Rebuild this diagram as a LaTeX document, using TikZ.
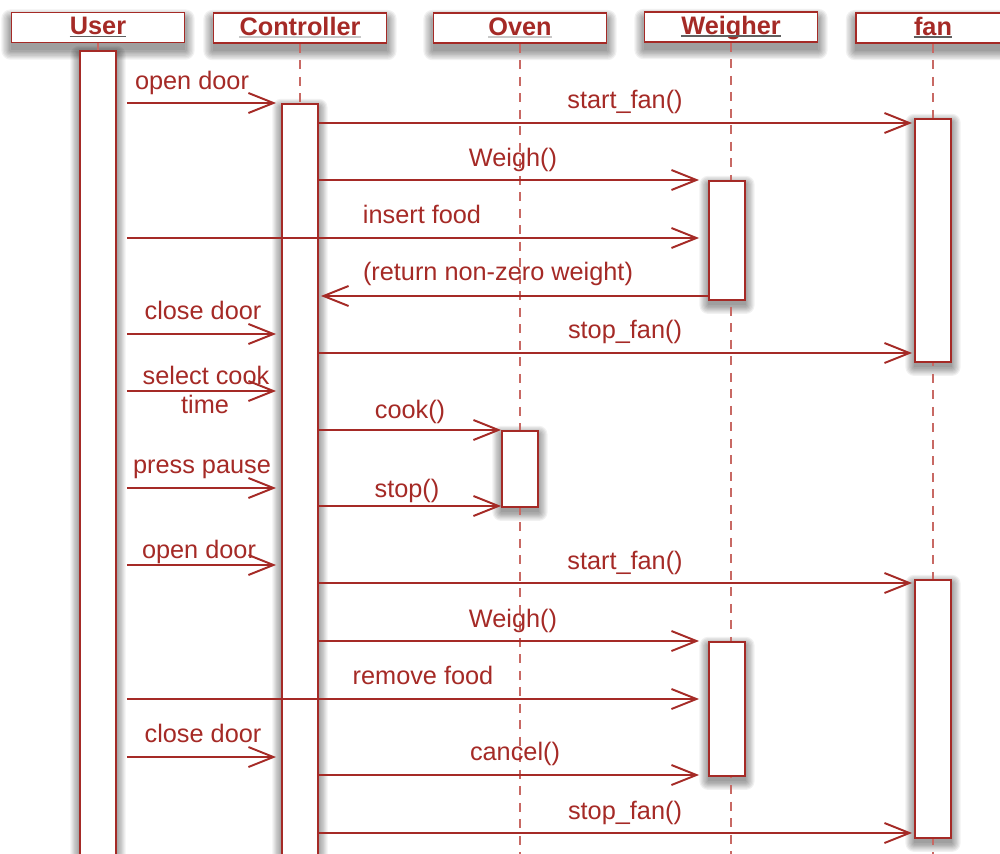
\documentclass[tikz,border=0pt]{standalone}
\usepackage{fontspec}
\setmainfont{Liberation Sans}
\usetikzlibrary{arrows.meta}
\definecolor{seqred}{RGB}{165,42,38}
\definecolor{lifered}{RGB}{200,105,100}
\definecolor{uldark}{RGB}{95,95,95}
\definecolor{ullight}{RGB}{200,200,200}
\pgfdeclarelayer{backdrop}
\pgfdeclarelayer{shade}
\pgfsetlayers{backdrop,shade,main}
% soft drop shadow behind a node: #1 node name, #2 downward offset, #3 spread step
\newcommand\softshade[3]{%
  \begin{pgfonlayer}{shade}
    \foreach \k in {0,...,7}{%
      \fill[black, opacity=0.055, rounded corners=\k*#3]
        ([xshift=-\k*#3, yshift=-#2+\k*#3]#1.north west) rectangle
        ([xshift=\k*#3, yshift=-#2-\k*#3]#1.south east);
    }
  \end{pgfonlayer}}
\begin{document}
\begin{tikzpicture}[x=0.02cm,y=-0.02cm,
  font=\fontsize{14.4}{17}\selectfont,
  headbox/.style={draw=seqred, line width=1.1pt, fill=white, minimum height=0.6cm,
    inner sep=0pt},
  headtext/.style={anchor=base, inner sep=0pt, text=seqred, font=\fontsize{14.4}{17}\selectfont\bfseries},
  bar/.style={draw=seqred, line width=1.1pt, fill=white, minimum width=0.72cm,
    inner sep=0pt, anchor=north},
  life/.style={draw=lifered, line width=1.6pt, dash pattern=on 0.18cm off 0.15cm},
  msg/.style={draw=seqred, line width=1.1pt,
    -{Straight Barb[length=0.5cm,width=0.4cm,line width=1.1pt]}},
  fromU/.style={shorten <=0.2cm},
  toC/.style={shorten >=0.1cm},
  toW/.style={shorten >=0.18cm},
  toF/.style={shorten >=0.04cm},
  lbl/.style={anchor=base, inner sep=0pt, text=seqred},
  ul/.style={line width=0.9pt}]

\useasboundingbox (0,0) rectangle (1000,853);
\begin{pgfonlayer}{backdrop}
  \fill[white] (0,0) rectangle (1000,853);
\end{pgfonlayer}
\clip (0,0) rectangle (1000,853);
\coordinate (bottom) at (0,870);

% object heads
\node[headbox, minimum width=3.46cm] (hUser) at (98,27.5) {};
\node[headbox, minimum width=3.46cm] (hCtl)  at (300,28) {};
\node[headbox, minimum width=3.46cm] (hOven) at (520,28) {};
\node[headbox, minimum width=3.46cm] (hWgh)  at (731,27) {};
\node[headbox, minimum width=3.08cm] (hFan)  at (933,28) {};
\foreach \h in {hUser,hCtl,hOven,hWgh,hFan}{\softshade{\h}{4pt}{0.75pt}}

\node[headtext] (tUser) at (98,34.5) {User};
\node[headtext] (tCtl)  at (300,35) {Controller};
\node[headtext] (tOven) at (520,35) {Oven};
\node[headtext] (tWgh)  at (731,34) {Weigher};
\node[headtext] (tFan)  at (933,35) {fan};

\draw[ul, uldark]  ([yshift=-1.2pt]tUser.base west) -- ([yshift=-1.2pt]tUser.base east);
\draw[ul, ullight] ([yshift=-1.2pt]tCtl.base west)  -- ([yshift=-1.2pt]tCtl.base east);
\draw[ul, ullight] ([yshift=-1.2pt]tOven.base west) -- ([yshift=-1.2pt]tOven.base east);
\draw[ul, uldark]  ([yshift=-1.2pt]tWgh.base west)  -- ([yshift=-1.2pt]tWgh.base east);
\draw[ul, uldark]  ([yshift=-1.2pt]tFan.base west)  -- ([yshift=-1.2pt]tFan.base east);

% lifelines
\draw[life, solid] (hUser.south) -- (98,50);
\draw[life] (hCtl.south) -- (300,103);
\draw[life] (hOven.south) -- (hOven.south |- bottom);
\draw[life] (hWgh.south) -- (hWgh.south |- bottom);
\draw[life] (hFan.south) -- (hFan.south |- bottom);

% activation bars
\node[bar, minimum height=16.6cm] (ubar)  at (98,50) {};
\node[bar, minimum height=15.6cm] (cbar)  at (300,103) {};
\node[bar, minimum height=4.86cm] (fbar1) at (933,118) {};
\node[bar, minimum height=2.38cm] (wbar1) at (727,180) {};
\node[bar, minimum height=1.52cm] (obar)  at (520,430) {};
\node[bar, minimum height=5.16cm] (fbar2) at (933,579) {};
\node[bar, minimum height=2.68cm] (wbar2) at (727,641) {};
\foreach \b in {ubar,cbar,fbar1,wbar1,obar,fbar2,wbar2}{\softshade{\b}{2.5pt}{0.7pt}}

% messages
\draw[msg, fromU, toC] (ubar.east |- 0,103) -- (cbar.west |- 0,103);
\draw[msg, toF]        (cbar.east |- 0,123) -- (fbar1.west |- 0,123);
\draw[msg, toW]        (cbar.east |- 0,180) -- (wbar1.west |- 0,180);
\draw[msg, fromU, toW] (ubar.east |- 0,238) -- (wbar1.west |- 0,238);
\draw[msg, toF]        (wbar1.west |- 0,296) -- (cbar.east |- 0,296);
\draw[msg, fromU, toC] (ubar.east |- 0,334) -- (cbar.west |- 0,334);
\draw[msg, toF]        (cbar.east |- 0,353) -- (fbar1.west |- 0,353);
\draw[msg, fromU, toC] (ubar.east |- 0,391) -- (cbar.west |- 0,391);
\draw[msg]             (cbar.east |- 0,430) -- (obar.west |- 0,430);
\draw[msg, fromU, toC] (ubar.east |- 0,488) -- (cbar.west |- 0,488);
\draw[msg]             (cbar.east |- 0,506) -- (obar.west |- 0,506);
\draw[msg, fromU, toC] (ubar.east |- 0,565) -- (cbar.west |- 0,565);
\draw[msg, toF]        (cbar.east |- 0,583) -- (fbar2.west |- 0,583);
\draw[msg, toW]        (cbar.east |- 0,641) -- (wbar2.west |- 0,641);
\draw[msg, fromU, toW] (ubar.east |- 0,699) -- (wbar2.west |- 0,699);
\draw[msg, fromU, toC] (ubar.east |- 0,757) -- (cbar.west |- 0,757);
\draw[msg, toW]        (cbar.east |- 0,775) -- (wbar2.west |- 0,775);
\draw[msg, toF]        (cbar.east |- 0,833) -- (fbar2.west |- 0,833);

% message labels
\node[lbl] (m1)  at (192,89)  {open door};
\node[lbl] (m2)  at (625,108) {start\_fan()};
\node[lbl] (m3)  at (513,166) {Weigh()};
\node[lbl] (m4)  at (422,223) {insert food};
\node[lbl] (m5)  at (498,280) {(return non-zero weight)};
\node[lbl] (m6)  at (203,319) {close door};
\node[lbl] (m7)  at (625,338) {stop\_fan()};
\node[lbl] (m8a) at (206,384) {select cook};
\node[lbl] (m8b) at (205,413) {time};
\node[lbl] (m9)  at (410,418) {cook()};
\node[lbl] (m10) at (202,473) {press pause};
\node[lbl] (m11) at (407,497) {stop()};
\node[lbl] (m12) at (199,558) {open door};
\node[lbl] (m13) at (625,569) {start\_fan()};
\node[lbl] (m14) at (513,627) {Weigh()};
\node[lbl] (m15) at (423,684) {remove food};
\node[lbl] (m16) at (203,742) {close door};
\node[lbl] (m17) at (515,760) {cancel()};
\node[lbl] (m18) at (625,819) {stop\_fan()};
\end{tikzpicture}
\end{document}
